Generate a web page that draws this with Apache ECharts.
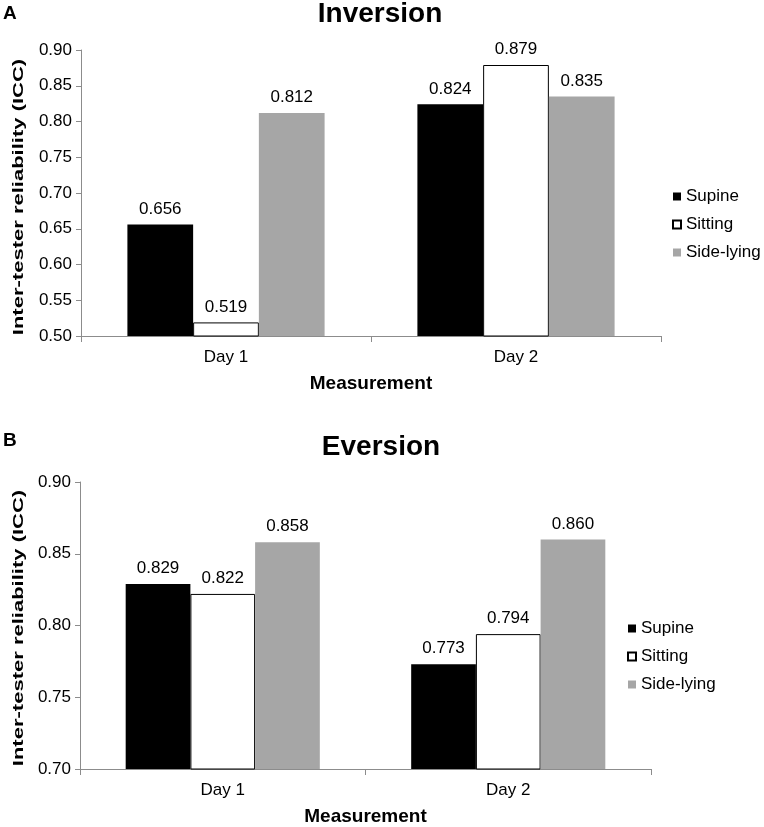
<!DOCTYPE html>
<html><head><meta charset="utf-8">
<script src="https://cdn.jsdelivr.net/npm/echarts@6/dist/echarts.min.js"></script>
<style>html,body{margin:0;padding:0;background:#fff}#c{width:764px;height:827px}</style>
</head><body><div id="c"></div>
<script>
const categories = ['Day 1', 'Day 2'];
const seriesNames = ['Supine', 'Sitting', 'Side-lying'];
const inversionSupine = [0.656, 0.824];
const inversionSitting = [0.519, 0.879];
const inversionSideLying = [0.812, 0.835];
const eversionSupine = [0.829, 0.773];
const eversionSitting = [0.822, 0.794];
const eversionSideLying = [0.858, 0.860];
const inversionTicks = {min: 0.5, max: 0.9, interval: 0.05};
const eversionTicks = {min: 0.7, max: 0.9, interval: 0.05};
const yAxisTitle = 'Inter-tester reliability (ICC)';

const F = 'Liberation Sans, Arial, sans-serif';
const styles = [
  {color: '#000000', borderColor: '#000000', borderWidth: 0},
  {color: '#ffffff', borderColor: '#000000', borderWidth: 1},
  {color: '#a6a6a6', borderColor: '#a6a6a6', borderWidth: 0}
];
function mkSeries(idx, arrs) {
  return arrs.map((d, i) => ({
    name: seriesNames[i], type: 'bar', xAxisIndex: idx, yAxisIndex: idx,
    data: d, barGap: '0%', barCategoryGap: '32%',
    itemStyle: styles[i],
    label: {show: true, position: 'top', distance: 7, color: '#000', fontFamily: F, fontSize: 17,
      formatter: p => p.value.toFixed(3)}
  }));
}
function xAx(idx) {
  return {type: 'category', gridIndex: idx, data: categories,
    name: 'Measurement', nameLocation: 'middle', nameGap: 38,
    nameTextStyle: {fontFamily: F, fontSize: 19, fontWeight: 'bold', color: '#000'},
    axisLine: {lineStyle: {color: '#8c8c8c'}},
    axisTick: {show: true, length: 6, lineStyle: {color: '#8c8c8c'}},
    axisLabel: {fontFamily: F, fontSize: 17, color: '#000', margin: 13}};
}
function yAx(idx, t) {
  return {type: 'value', gridIndex: idx, min: t.min, max: t.max, interval: t.interval,
    axisLine: {show: true, lineStyle: {color: '#8c8c8c'}},
    axisTick: {show: true, length: 5, lineStyle: {color: '#8c8c8c'}},
    splitLine: {show: false},
    axisLabel: {fontFamily: F, fontSize: 17, color: '#000', margin: 9,
      formatter: v => v.toFixed(2)}};
}
function mkLegend(left, top) {
  return {orient: 'vertical', left: left, top: top, itemGap: 11, itemWidth: 8, itemHeight: 8, icon: 'rect',
    padding: 0, textStyle: {fontFamily: F, fontSize: 17, color: '#000'},
    data: seriesNames, selectedMode: false};
}
function yTitle(cx, cy) {
  return {type: 'text', x: cx, y: cy, rotation: Math.PI / 2, scaleX: 1.42, silent: true,
    style: {text: yAxisTitle, font: 'bold 15.5px ' + F, fill: '#000', align: 'center', verticalAlign: 'middle'}};
}
const chart = echarts.init(document.getElementById('c'));
chart.setOption({
  animation: false,
  backgroundColor: '#fff',
  title: [
    {text: 'Inversion', left: 375, top: -5, textAlign: 'center', textStyle: {fontFamily: F, fontSize: 28, fontWeight: 'bold', color: '#000'}},
    {text: 'Eversion', left: 376, top: 428, textAlign: 'center', textStyle: {fontFamily: F, fontSize: 28, fontWeight: 'bold', color: '#000'}},
    {text: 'A', left: -2, top: -1, textStyle: {fontFamily: F, fontSize: 19, fontWeight: 'bold', color: '#000'}},
    {text: 'B', left: -2, top: 426, textStyle: {fontFamily: F, fontSize: 19, fontWeight: 'bold', color: '#000'}}
  ],
  legend: [mkLegend(672, 188), mkLegend(627, 620)],
  grid: [
    {left: 81, width: 580, top: 50, height: 286},
    {left: 80, width: 571, top: 482, height: 288}
  ],
  xAxis: [xAx(0), xAx(1)],
  yAxis: [yAx(0, inversionTicks), yAx(1, eversionTicks)],
  graphic: [yTitle(19, 197), yTitle(19, 628)],
  series: [].concat(
    mkSeries(0, [inversionSupine, inversionSitting, inversionSideLying]),
    mkSeries(1, [eversionSupine, eversionSitting, eversionSideLying])
  )
});
</script></body></html>
